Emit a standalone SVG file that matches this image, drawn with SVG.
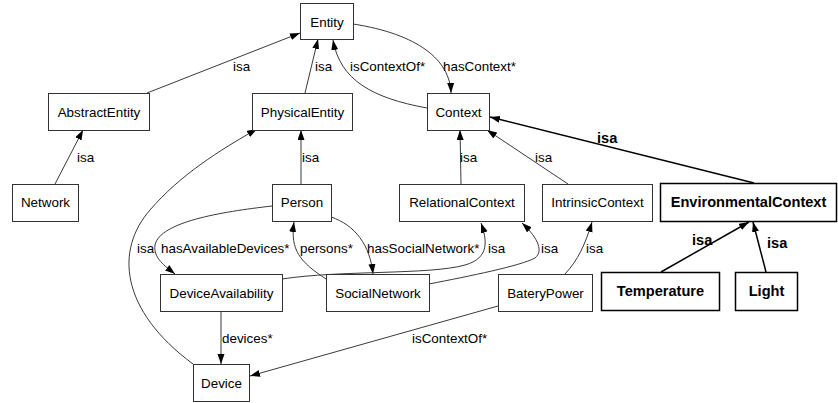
<svg xmlns="http://www.w3.org/2000/svg" width="838" height="403" viewBox="0 0 838 403">
  <style>
    .node rect { fill: #ffffff; stroke: #333333; stroke-width: 1; }
    .node text { font-family: "Liberation Sans", Arial, sans-serif; font-size: 13.4px; fill: #000000; text-anchor: middle; }
    .node.strong rect { stroke: #000000; stroke-width: 1.5; }
    .node.strong text { font-weight: bold; font-size: 14.6px; }
    .edge { fill: none; stroke: #3a3a3a; stroke-width: 1; marker-end: url(#arrow); }
    .edge.strong { stroke: #000000; stroke-width: 1.5; marker-end: url(#arrowBold); }
    .label { font-family: "Liberation Sans", Arial, sans-serif; font-size: 13.4px; fill: #000000; }
    .label.strong { font-weight: bold; font-size: 14.6px; }
  </style>
  <defs>
    <marker id="arrow" markerUnits="userSpaceOnUse" markerWidth="11" markerHeight="8" refX="10" refY="3.5" orient="auto">
      <path d="M0,0 L10,3.5 L0,7 z" fill="#000000"/>
    </marker>
    <marker id="arrowBold" markerUnits="userSpaceOnUse" markerWidth="11" markerHeight="8" refX="10" refY="3.5" orient="auto">
      <path d="M0,0 L10,3.5 L0,7 z" fill="#000000"/>
    </marker>
  </defs>
  <rect x="0" y="0" width="838" height="403" fill="#ffffff"/>

  <g id="connectors">
    <path class="edge" d="M147,93 L300,33"/>
    <path class="edge" d="M305,93 L318,39"/>
    <path class="edge" d="M427,108 C372,98 340,80 333,40"/>
    <path class="edge" d="M353,24 C418,34 450,60 451,93"/>
    <path class="edge" d="M55,184 L83,130"/>
    <path class="edge" d="M193,364 C120,310 115,250 150,210 C180,175 220,150 257,129"/>
    <path class="edge" d="M301,184 L301,130"/>
    <path class="edge" d="M272,206 C220,212 160,222 155,245 C153,258 165,266 175,274"/>
    <path class="edge" d="M326,279 C300,262 290,250 294,222"/>
    <path class="edge" d="M331,217 C355,225 370,245 373,274"/>
    <path class="edge" d="M282,279 C340,270 430,275 465,265 C490,258 487,240 481,223"/>
    <path class="edge" d="M429,284 C470,276 520,266 535,258 C545,250 535,235 522,223"/>
    <path class="edge" d="M461,184 L460,130"/>
    <path class="edge" d="M568,184 L487,130"/>
    <path class="edge strong" d="M754,183 L490,117"/>
    <path class="edge" d="M565,274 C578,260 585,245 592,222"/>
    <path class="edge strong" d="M661,272 L749,222"/>
    <path class="edge strong" d="M766,272 L753,222"/>
    <path class="edge" d="M221,311 L221,364"/>
    <path class="edge" d="M498,306 L250,376"/>

    <text class="label" x="233" y="71">isa</text>
    <text class="label" x="315" y="71">isa</text>
    <text class="label" x="350" y="71">isContextOf*</text>
    <text class="label" x="443" y="71">hasContext*</text>
    <text class="label" x="77" y="162">isa</text>
    <text class="label" x="302" y="162">isa</text>
    <text class="label" x="460" y="162">isa</text>
    <text class="label" x="535" y="162">isa</text>
    <text class="label strong" x="597" y="143">isa</text>
    <text class="label" x="137" y="253">isa</text>
    <text class="label" x="161" y="253">hasAvailableDevices*</text>
    <text class="label" x="300" y="253">persons*</text>
    <text class="label" x="367" y="253">hasSocialNetwork*</text>
    <text class="label" x="488" y="253">isa</text>
    <text class="label" x="541" y="253">isa</text>
    <text class="label" x="586" y="253">isa</text>
    <text class="label strong" x="692" y="245">isa</text>
    <text class="label strong" x="767" y="248">isa</text>
    <text class="label" x="222" y="343">devices*</text>
    <text class="label" x="412" y="343">isContextOf*</text>
  </g>

  <g id="Entity" class="node"><rect x="300.5" y="3.5" width="53" height="36"/><text x="327" y="27">Entity</text></g>
  <g id="AbstractEntity" class="node"><rect x="48.5" y="93.5" width="101" height="37"/><text x="99" y="117">AbstractEntity</text></g>
  <g id="PhysicalEntity" class="node"><rect x="252.5" y="93.5" width="100" height="37"/><text x="302.5" y="117">PhysicalEntity</text></g>
  <g id="Context" class="node"><rect x="427.5" y="93.5" width="62" height="37"/><text x="458.5" y="117">Context</text></g>
  <g id="Network" class="node"><rect x="12.5" y="184.5" width="66" height="37"/><text x="45.5" y="207">Network</text></g>
  <g id="Person" class="node"><rect x="272.5" y="184.5" width="59" height="37"/><text x="302" y="207">Person</text></g>
  <g id="RelationalContext" class="node"><rect x="399.5" y="184.5" width="125" height="37"/><text x="462" y="207">RelationalContext</text></g>
  <g id="IntrinsicContext" class="node"><rect x="542.5" y="184.5" width="110" height="37"/><text x="597.5" y="207">IntrinsicContext</text></g>
  <g id="EnvironmentalContext" class="node strong"><rect x="660.5" y="183.5" width="176" height="38"/><text x="748.5" y="207">EnvironmentalContext</text></g>
  <g id="DeviceAvailability" class="node"><rect x="160.5" y="274.5" width="122" height="37"/><text x="221.5" y="298">DeviceAvailability</text></g>
  <g id="SocialNetwork" class="node"><rect x="326.5" y="274.5" width="103" height="37"/><text x="378" y="298">SocialNetwork</text></g>
  <g id="BateryPower" class="node"><rect x="498.5" y="274.5" width="94" height="37"/><text x="545.5" y="298">BateryPower</text></g>
  <g id="Temperature" class="node strong"><rect x="601.5" y="272.5" width="118" height="38"/><text x="660.5" y="296">Temperature</text></g>
  <g id="Light" class="node strong"><rect x="735.5" y="272.5" width="62" height="38"/><text x="766.5" y="296">Light</text></g>
  <g id="Device" class="node"><rect x="193.5" y="364.5" width="56" height="37"/><text x="221.5" y="388">Device</text></g>
</svg>
